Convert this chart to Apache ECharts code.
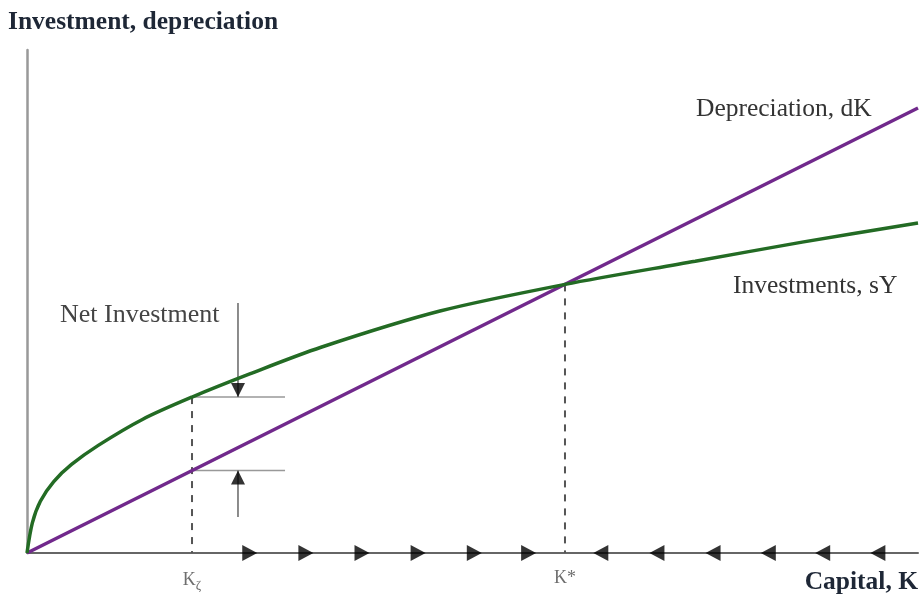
<!DOCTYPE html>
<html>
<head>
<meta charset="utf-8">
<script src="https://cdn.jsdelivr.net/npm/echarts@6/dist/echarts.min.js"></script>
<style>html,body{margin:0;padding:0;background:#fff}#c{width:920px;height:597px}</style>
</head>
<body>
<div id="c"></div>
<script>
// ---- data ----
var depreciationX = [0, 100];
var depreciationY = [0, 88.46];
var investX = [0, 0.6, 1.5, 3.0, 5.0, 8.0, 13.0, 18.52, 25, 33, 46.35, 60.38, 75, 87, 100];
var investY = [0, 6.0, 10.3, 14.2, 17.6, 21.4, 26.6, 31.0, 35.6, 40.9, 48.1, 53.4, 58.0, 61.8, 65.6];
var kLabels = ['K{sub|ζ}', 'K*'];
var kValues = [18.52, 60.38];
var kInvest = [31.0, 53.4];
var kDeprec = [16.38, 53.4];
var bracketEnd = 28.96;
var netArrowX = 23.68;
var netArrowTop = 49.7;
var netArrowBottom = 7.16;
var arrowsRight = [25.0, 31.3, 37.6, 43.9, 50.2, 56.3];
var arrowsLeft = [64.4, 70.7, 77.0, 83.2, 89.3, 95.5];

var PURPLE = '#71298c';
var GREEN = '#236b24';
var SERIF = '"Liberation Serif", "DejaVu Serif", serif';

function pairs(xs, ys) { return xs.map(function (x, i) { return [x, ys[i]]; }); }

var series = [];
// dashed verticals
kValues.forEach(function (k, i) {
  series.push({ type: 'line', data: [[k, kInvest[i]], [k, 0]], symbol: 'none', silent: true,
    lineStyle: { color: '#555', width: 2, type: [7, 7] }, z: 1 });
});
// bracket horizontal lines
series.push({ type: 'line', data: [[kValues[0], kInvest[0]], [bracketEnd, kInvest[0]]], symbol: 'none',
  lineStyle: { color: '#999', width: 1.5 }, z: 1 });
series.push({ type: 'line', data: [[kValues[0], kDeprec[0]], [bracketEnd, kDeprec[0]]], symbol: 'none',
  lineStyle: { color: '#999', width: 1.5 }, z: 1 });
// net investment arrow shafts
series.push({ type: 'line', data: [[netArrowX, netArrowTop], [netArrowX, kInvest[0]]], symbol: 'none',
  lineStyle: { color: '#666', width: 1.5 }, z: 1 });
series.push({ type: 'line', data: [[netArrowX, netArrowBottom], [netArrowX, kDeprec[0]]], symbol: 'none',
  lineStyle: { color: '#666', width: 1.5 }, z: 1 });
// arrow heads
series.push({ type: 'scatter', data: [[netArrowX, kInvest[0]]], symbol: 'triangle', symbolSize: [14, 14],
  symbolRotate: 180, symbolOffset: [0, -7], itemStyle: { color: '#000' }, z: 5 });
series.push({ type: 'scatter', data: [[netArrowX, kDeprec[0]]], symbol: 'triangle', symbolSize: [14, 14],
  symbolRotate: 0, symbolOffset: [0, 7], itemStyle: { color: '#000' }, z: 5 });
// curves
series.push({ type: 'line', data: pairs(depreciationX, depreciationY), symbol: 'none',
  lineStyle: { color: PURPLE, width: 3.5 }, z: 3 });
series.push({ type: 'line', data: pairs(investX, investY), symbol: 'none', smooth: 0.3,
  lineStyle: { color: GREEN, width: 3.5 }, z: 3 });
// axis arrows
series.push({ type: 'scatter', data: arrowsRight.map(function (x) { return [x, 0]; }), symbol: 'triangle',
  symbolSize: [16, 15], symbolRotate: -90, itemStyle: { color: '#000' }, z: 6 });
series.push({ type: 'scatter', data: arrowsLeft.map(function (x) { return [x, 0]; }), symbol: 'triangle',
  symbolSize: [16, 15], symbolRotate: 90, itemStyle: { color: '#000' }, z: 6 });
// K labels
series.push({ type: 'scatter', data: kValues.map(function (k, i) { return { value: [k, 0], label: { formatter: kLabels[i] } }; }),
  symbolSize: 0, z: 7,
  label: { show: true, position: 'bottom', distance: 16, color: '#4a4a4a', fontFamily: SERIF, fontSize: 18,
    rich: { sub: { fontSize: 13, color: '#4a4a4a', fontFamily: SERIF, padding: [10, 0, 0, 0] } } } });

function txt(s, x, y, font, fill, align) {
  return { type: 'text', x: x, y: y, silent: true,
    style: { text: s, font: font, fill: fill, align: align || 'left', verticalAlign: 'middle' } };
}

var chart = echarts.init(document.getElementById('c'), null, { renderer: 'canvas' });
chart.setOption({
  animation: false,
  backgroundColor: '#fff',
  grid: { left: 27, right: 2, top: 50, bottom: 44 },
  xAxis: { type: 'value', min: 0, max: 100, axisLine: { lineStyle: { color: '#666', width: 2 } },
    axisTick: { show: false }, axisLabel: { show: false }, splitLine: { show: false } },
  yAxis: { type: 'value', min: 0, max: 100, axisLine: { show: true, lineStyle: { color: '#999', width: 2.5 } },
    axisTick: { show: false }, axisLabel: { show: false }, splitLine: { show: false } },
  series: series,
  graphic: [
    txt('Investment, depreciation', 8, 22, 'bold 25.5px ' + SERIF, '#1e2736'),
    txt('Capital, K', 918, 582, 'bold 25.5px ' + SERIF, '#1e2736', 'right'),
    txt('Depreciation, dK', 696, 109, '25.5px ' + SERIF, '#333'),
    txt('Investments, sY', 733, 286, '25.5px ' + SERIF, '#333'),
    txt('Net Investment', 60, 315, '26px ' + SERIF, '#444')
  ]
});
</script>
</body>
</html>
